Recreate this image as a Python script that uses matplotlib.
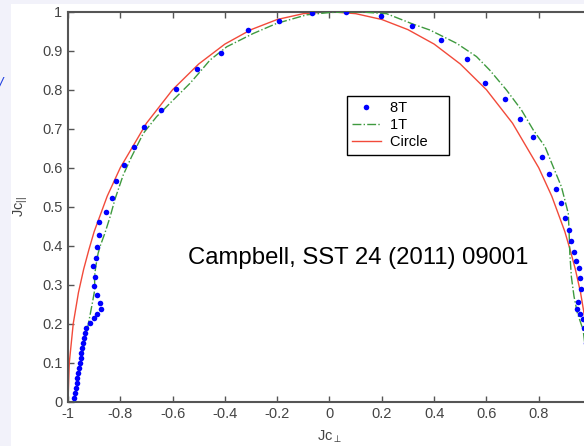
import matplotlib
matplotlib.use("Agg")
import matplotlib.pyplot as plt
from matplotlib.patches import Rectangle

plt.rcParams['font.family'] = ['Liberation Sans', 'DejaVu Sans']
plt.rcParams['mathtext.default'] = 'regular'

# ---- data ----
b8_x = [-0.977, -0.973, -0.969, -0.967, -0.964, -0.961, -0.957, -0.954, -0.952, -0.949,
        -0.945, -0.942, -0.938, -0.934, -0.931, -0.916, -0.901, -0.888, -0.875, -0.877,
        -0.890, -0.899, -0.896, -0.906, -0.894, -0.890, -0.883, -0.880, -0.855, -0.832,
        -0.818, -0.786, -0.749, -0.708, -0.646, -0.587, -0.508, -0.416, -0.313, -0.193,
        -0.066, 0.065, 0.197, 0.316, 0.426, 0.524, 0.595, 0.673, 0.728, 0.779, 0.812,
        0.840, 0.868, 0.887, 0.900, 0.917, 0.923, 0.935, 0.943, 0.954, 0.958, 0.962,
        0.950, 0.947, 0.957, 0.968, 0.975, 0.980, 0.983, 0.985, 0.987]
b8_y = [0.009, 0.022, 0.034, 0.047, 0.060, 0.073, 0.086, 0.098, 0.111, 0.124,
        0.137, 0.150, 0.163, 0.175, 0.188, 0.201, 0.214, 0.224, 0.237, 0.254,
        0.274, 0.297, 0.319, 0.348, 0.368, 0.397, 0.427, 0.462, 0.487, 0.522,
        0.567, 0.608, 0.654, 0.704, 0.748, 0.801, 0.853, 0.895, 0.953, 0.977,
        0.996, 1.000, 0.989, 0.964, 0.927, 0.880, 0.816, 0.777, 0.725, 0.679, 0.628,
        0.584, 0.545, 0.509, 0.472, 0.440, 0.413, 0.384, 0.362, 0.342, 0.316, 0.290,
        0.256, 0.238, 0.224, 0.212, 0.190, 0.150, 0.100, 0.050, 0.000]

t1_x = [-0.975, -0.965, -0.955, -0.945, -0.935, -0.925, -0.918, -0.906, -0.897, -0.899,
        -0.893, -0.885, -0.878, -0.859, -0.839, -0.820, -0.789, -0.757, -0.712, -0.661,
        -0.597, -0.534, -0.495, -0.457, -0.393, -0.292, -0.202, -0.087, 0.002, 0.104,
        0.218, 0.320, 0.384, 0.486, 0.562, 0.613, 0.677, 0.734, 0.779, 0.824, 0.855,
        0.887, 0.913, 0.916, 0.919, 0.925, 0.935, 0.948, 0.970, 0.985, 0.990]
t1_y = [0.000, 0.040, 0.080, 0.120, 0.160, 0.190, 0.214, 0.256, 0.290, 0.320,
        0.350, 0.380, 0.397, 0.432, 0.474, 0.520, 0.581, 0.628, 0.688, 0.731,
        0.774, 0.816, 0.846, 0.876, 0.910, 0.944, 0.970, 0.992, 0.998, 1.000,
        0.995, 0.968, 0.953, 0.919, 0.885, 0.850, 0.799, 0.748, 0.697, 0.654, 0.603,
        0.551, 0.483, 0.440, 0.380, 0.320, 0.270, 0.227, 0.184, 0.100, 0.000]

circ_x = [-1.0, -0.995, -0.98, -0.96, -0.94, -0.92, -0.9, -0.85, -0.8, -0.7, -0.6, -0.5,
          -0.4, -0.3, -0.2, -0.1, 0.0, 0.1, 0.2, 0.3, 0.4, 0.5, 0.6, 0.7, 0.8, 0.85,
          0.9, 0.92, 0.94, 0.96, 0.98, 0.995, 1.0]
circ_y = [0.0, 0.10, 0.20, 0.28, 0.34, 0.39, 0.436, 0.527, 0.60, 0.714, 0.80, 0.866,
          0.917, 0.954, 0.98, 0.995, 1.0, 0.995, 0.98, 0.954, 0.917, 0.866, 0.80, 0.714,
          0.60, 0.527, 0.436, 0.39, 0.34, 0.28, 0.20, 0.10, 0.0]

xticks = [-1, -0.8, -0.6, -0.4, -0.2, 0, 0.2, 0.4, 0.6, 0.8, 1]
xtick_labels = ['-1', '-0.8', '-0.6', '-0.4', '-0.2', '0', '0.2', '0.4', '0.6', '0.8', '']
yticks = [0, 0.1, 0.2, 0.3, 0.4, 0.5, 0.6, 0.7, 0.8, 0.9, 1]
ytick_labels = ['0', '0.1', '0.2', '0.3', '0.4', '0.5', '0.6', '0.7', '0.8', '0.9', '1']

W, H = 584, 446
fig = plt.figure(figsize=(W / 100, H / 100), dpi=100, facecolor='white')

# light strips at the left and top edges
fig.patches.append(Rectangle((0, 0), 11 / W, 1, transform=fig.transFigure,
                             facecolor='#f2f2fa', edgecolor='none', zorder=0))
fig.patches.append(Rectangle((0, 1 - 4 / H), 1, 4 / H, transform=fig.transFigure,
                             facecolor='#f2f2fa', edgecolor='none', zorder=0))
fig.text(-0.002, 1 - 84 / H, '/', color='#2040e0', fontsize=11, va='center',
         ha='left', style='italic')

left_px, right_px, top_px, bot_px = 68, 591, 11.7, 401.7
ax = fig.add_axes([left_px / W, 1 - bot_px / H, (right_px - left_px) / W,
                   (bot_px - top_px) / H])
ax.set_facecolor('white')

ax.plot(b8_x, b8_y, linestyle='none', marker='o', markersize=4.0, color='#0000ff',
        markeredgewidth=0, label='8T', zorder=4)
ax.plot(t1_x, t1_y, linestyle='-.', color='#3f9a3f', linewidth=1.0, label='1T', zorder=3)
ax.plot(circ_x, circ_y, linestyle='-', color='#f24a3a', linewidth=1.0, label='Circle', zorder=2)

ax.set_xlim(-1, 1)
ax.set_ylim(0, 1)
ax.set_xticks(xticks)
ax.set_xticklabels(xtick_labels)
ax.set_yticks(yticks)
ax.set_yticklabels(ytick_labels)
ax.tick_params(direction='in', top=True, right=True, length=4, width=1.0,
               colors='#555555', labelcolor='#444444', labelsize=10.5, pad=4)
for s in ax.spines.values():
    s.set_color('#555555')
    s.set_linewidth(1.5)

ax.set_xlabel(r'Jc$_{\perp}$', fontsize=10.5, color='#444444', labelpad=5)
ax.set_ylabel(r'Jc$_{||}$', fontsize=10.5, color='#444444', labelpad=9)

leg = ax.legend(loc='upper left', bbox_to_anchor=(0.533, 0.784), fontsize=10.5,
                frameon=True, fancybox=False, edgecolor='black', framealpha=1,
                handlelength=2.0, labelspacing=0.22, borderpad=0.35,
                handletextpad=0.6, borderaxespad=0)
leg.get_frame().set_linewidth(1.0)
# MATLAB-style legend box has extra room on the right
for t in leg.get_texts():
    t.set_text(t.get_text() + '    ')

ax.text(0.11, 0.368, 'Campbell, SST 24 (2011) 09001', fontsize=17.2, color='black',
        ha='center', va='center', transform=ax.transData)

fig.savefig('out.png', dpi=100, facecolor='white')
